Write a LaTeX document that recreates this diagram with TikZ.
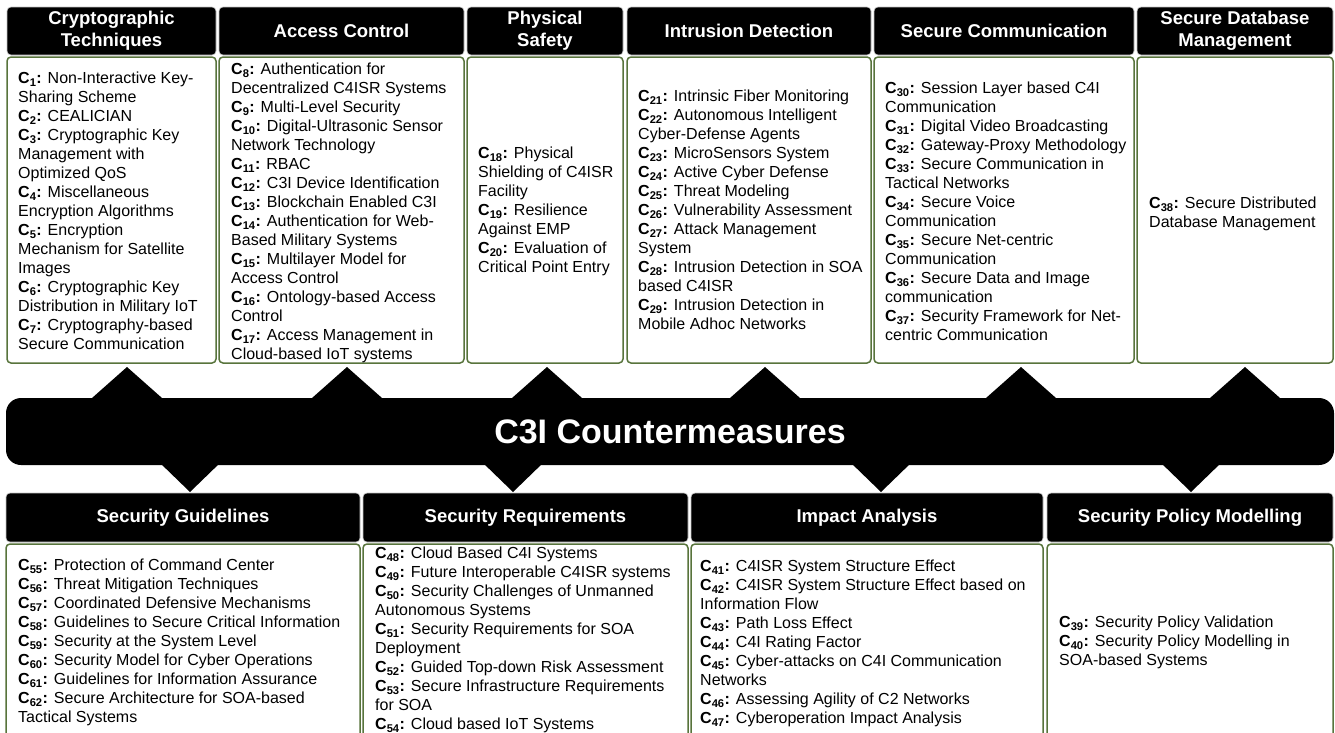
\documentclass[tikz,border=0pt]{standalone}
\usepackage{fontspec}
\setmainfont{Liberation Sans}
\definecolor{boxgreen}{RGB}{88,116,60}
\newcommand{\citem}[1]{\textbf{C\textsubscript{#1}:}}
\tikzset{
  hdr/.style={fill=black, draw=gray!45, line width=0.6pt, rounded corners=4pt, text=white,
    font=\fontsize{18.5}{22}\selectfont\bfseries, align=center, inner sep=0pt},
  bodybox/.style={fill=white, draw=boxgreen, line width=1.5pt, rounded corners=4pt, inner sep=0pt},
  itemtxt/.style={anchor=north west, inner sep=0pt, align=left, font=\fontsize{16}{19}\selectfont},
  band/.style={fill=black, rounded corners=15pt, text=white, inner sep=0pt,
    font=\fontsize{34}{40}\selectfont\bfseries},
}
\begin{document}
\begin{tikzpicture}[x=1pt,y=-1pt]
\clip (0,0) rectangle (1335,732);
\fill[white] (0,0) rectangle (1335,732);
% top headers
\node[hdr, minimum width=209pt, minimum height=48pt] (h1) at (111.5,31) {Cryptographic\\Techniques};
\node[hdr, minimum width=245pt, minimum height=48pt] (h2) at (341.5,31) {Access Control};
\node[hdr, minimum width=156pt, minimum height=48pt] (h3) at (545,31) {Physical\\Safety};
\node[hdr, minimum width=244pt, minimum height=48pt] (h4) at (749,31) {Intrusion Detection};
\node[hdr, minimum width=260pt, minimum height=48pt] (h5) at (1004,31) {Secure Communication};
\node[hdr, minimum width=196pt, minimum height=48pt] (h6) at (1235,31) {Secure Database\\Management};
% top bodies
\node[bodybox, minimum width=209pt, minimum height=306pt] (b1) at (111.5,210) {};
\node[bodybox, minimum width=245pt, minimum height=306pt] (b2) at (341.5,210) {};
\node[bodybox, minimum width=156pt, minimum height=306pt] (b3) at (545,210) {};
\node[bodybox, minimum width=244pt, minimum height=306pt] (b4) at (749,210) {};
\node[bodybox, minimum width=260pt, minimum height=306pt] (b5) at (1004,210) {};
\node[bodybox, minimum width=196pt, minimum height=306pt] (b6) at (1235,210) {};
% top texts
\node[itemtxt] (t1) at (18,72) {\citem{1} Non-Interactive Key-\\Sharing Scheme\\\citem{2} CEALICIAN\\\citem{3} Cryptographic Key\\Management with\\Optimized QoS\\\citem{4} Miscellaneous\\Encryption Algorithms\\\citem{5} Encryption\\Mechanism for Satellite\\Images\\\citem{6} Cryptographic Key\\Distribution in Military IoT\\\citem{7} Cryptography-based\\Secure Communication};
\node[itemtxt] (t2) at (231,63) {\citem{8} Authentication for\\Decentralized C4ISR Systems\\\citem{9} Multi-Level Security\\\citem{10} Digital-Ultrasonic Sensor\\Network Technology\\\citem{11} RBAC\\\citem{12} C3I Device Identification\\\citem{13} Blockchain Enabled C3I\\\citem{14} Authentication for Web-\\Based Military Systems\\\citem{15} Multilayer Model for\\Access Control\\\citem{16} Ontology-based Access\\Control\\\citem{17} Access Management in\\Cloud-based IoT systems};
\node[itemtxt] (t3) at (478,147) {\citem{18} Physical\\Shielding of C4ISR\\Facility\\\citem{19} Resilience\\Against EMP\\\citem{20} Evaluation of\\Critical Point Entry};
\node[itemtxt] (t4) at (638,90) {\citem{21} Intrinsic Fiber Monitoring\\\citem{22} Autonomous Intelligent\\Cyber-Defense Agents\\\citem{23} MicroSensors System\\\citem{24} Active Cyber Defense\\\citem{25} Threat Modeling\\\citem{26} Vulnerability Assessment\\\citem{27} Attack Management\\System\\\citem{28} Intrusion Detection in SOA\\based C4ISR\\\citem{29} Intrusion Detection in\\Mobile Adhoc Networks};
\node[itemtxt] (t5) at (885,82) {\citem{30} Session Layer based C4I\\Communication\\\citem{31} Digital Video Broadcasting\\\citem{32} Gateway-Proxy Methodology\\\citem{33} Secure Communication in\\Tactical Networks\\\citem{34} Secure Voice\\Communication\\\citem{35} Secure Net-centric\\Communication\\\citem{36} Secure Data and Image\\communication\\\citem{37} Security Framework for Net-\\centric Communication};
\node[itemtxt] (t6) at (1149,197) {\citem{38} Secure Distributed\\Database Management};
% central band with pointers
\foreach \ax in {127,347,547,765,1021,1245}
  \fill (\ax,367) -- (\ax+39.5,402) -- (\ax-39.5,402) -- cycle;
\foreach \ax in {190,513,881,1191}
  \fill (\ax,492) -- (\ax+32,461) -- (\ax-32,461) -- cycle;
\node[band, minimum width=1328pt, minimum height=67pt] (band) at (670,431.5) {C3I Countermeasures};
% bottom headers
\node[hdr, minimum width=354pt, minimum height=49pt] (g1) at (183,517.5) {Security Guidelines};
\node[hdr, minimum width=325pt, minimum height=49pt] (g2) at (525.5,517.5) {Security Requirements};
\node[hdr, minimum width=352pt, minimum height=49pt] (g3) at (867,517.5) {Impact Analysis};
\node[hdr, minimum width=286pt, minimum height=49pt] (g4) at (1190,517.5) {Security Policy Modelling};
% bottom bodies
\node[bodybox, minimum width=354pt, minimum height=236pt] (d1) at (183,662) {};
\node[bodybox, minimum width=325pt, minimum height=236pt] (d2) at (525.5,662) {};
\node[bodybox, minimum width=352pt, minimum height=236pt] (d3) at (867,662) {};
\node[bodybox, minimum width=286pt, minimum height=236pt] (d4) at (1190,662) {};
% bottom texts
\node[itemtxt] (u1) at (18,559) {\citem{55} Protection of Command Center\\\citem{56} Threat Mitigation Techniques\\\citem{57} Coordinated Defensive Mechanisms\\\citem{58} Guidelines to Secure Critical Information\\\citem{59} Security at the System Level\\\citem{60} Security Model for Cyber Operations\\\citem{61} Guidelines for Information Assurance\\\citem{62} Secure Architecture for SOA-based\\Tactical Systems};
\node[itemtxt] (u2) at (375,547) {\citem{48} Cloud Based C4I Systems\\\citem{49} Future Interoperable C4ISR systems\\\citem{50} Security Challenges of Unmanned\\Autonomous Systems\\\citem{51} Security Requirements for SOA\\Deployment\\\citem{52} Guided Top-down Risk Assessment\\\citem{53} Secure Infrastructure Requirements\\for SOA\\\citem{54} Cloud based IoT Systems};
\node[itemtxt] (u3) at (700,560) {\citem{41} C4ISR System Structure Effect\\\citem{42} C4ISR System Structure Effect based on\\Information Flow\\\citem{43} Path Loss Effect\\\citem{44} C4I Rating Factor\\\citem{45} Cyber-attacks on C4I Communication\\Networks\\\citem{46} Assessing Agility of C2 Networks\\\citem{47} Cyberoperation Impact Analysis};
\node[itemtxt] (u4) at (1059,616) {\citem{39} Security Policy Validation\\\citem{40} Security Policy Modelling in\\SOA-based Systems};
\end{tikzpicture}
\end{document}
